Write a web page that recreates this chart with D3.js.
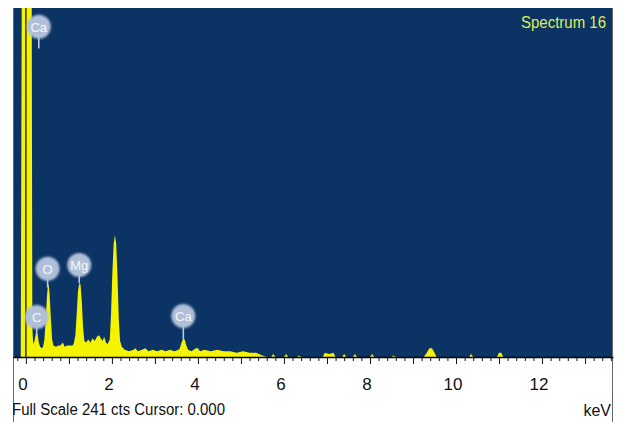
<!DOCTYPE html>
<html>
<head>
<meta charset="utf-8">
<script src="https://cdn.jsdelivr.net/npm/d3@7"></script>
<style>
  body { margin: 0; background: #fff; }
  text { font-family: 'Liberation Sans', Arial, sans-serif; }
</style>
</head>
<body>
<div class="spectrum-container"></div>
<script>
// spectrum vertices: energy (keV) and counts
var energy = [-0.3, -0.12, -0.09, 0.13, 0.15, 0.17, 0.2, 0.23, 0.25, 0.27, 0.3, 0.33, 0.37,
  0.4, 0.43, 0.46, 0.49, 0.51, 0.53, 0.55, 0.58, 0.61, 0.64,
  0.7, 0.76, 0.8, 0.86, 0.9, 0.96, 1.0, 1.08,
  1.11, 1.15, 1.18, 1.21, 1.24, 1.27, 1.3, 1.33, 1.36, 1.4,
  1.45, 1.5, 1.55, 1.6, 1.65, 1.7, 1.74, 1.78, 1.82, 1.86, 1.9,
  1.95, 1.98, 2.01, 2.04, 2.07, 2.1, 2.13, 2.16, 2.19, 2.23,
  2.3, 2.4, 2.5, 2.55, 2.6, 2.7, 2.78, 2.85, 2.95, 3.05, 3.15, 3.25, 3.35, 3.45, 3.55,
  3.58, 3.62, 3.66, 3.69, 3.73, 3.77, 3.85, 3.95, 4.0, 4.05, 4.15, 4.3, 4.45, 4.6, 4.75, 4.9, 5.05, 5.2, 5.35, 5.5, 5.6,
  5.7, 5.75, 5.8, 6.0, 6.05, 6.1, 6.3, 6.35, 6.4, 6.9, 6.95, 7.05, 7.15, 7.2, 7.35, 7.4, 7.45,
  7.6, 7.65, 7.7, 8.0, 8.05, 8.1, 8.5, 8.55, 8.6,
  9.25, 9.32, 9.38, 9.44, 9.5, 9.55, 10.3, 10.35, 10.4, 10.95, 11.0, 11.05, 11.1, 13.65];
var counts = [0, 0, 320, 320, 20, 9, 11, 16, 18, 16, 10, 7, 6,
  7, 12, 26, 42, 49, 50, 44, 27, 12, 8,
  7, 8, 8, 10, 7, 8, 8, 8,
  9, 15, 29, 45, 51, 50, 38, 20, 11, 10,
  12, 10, 13, 11, 14, 15, 13, 11, 14, 10, 9,
  12, 30, 58, 78, 84, 78, 55, 26, 11, 7,
  5, 4, 5, 6, 4, 5, 6, 4, 5, 4, 5, 4, 5, 4, 5,
  6, 10, 13, 12, 8, 5, 4, 6, 6, 4, 5, 4, 5, 4, 4, 3, 4, 3, 3, 1, 0,
  0, 2, 0, 0, 2, 0, 0, 1, 0, 0, 3, 2, 3, 0, 0, 2, 0,
  0, 2, 0, 0, 2, 0, 0, 1, 0,
  0, 3, 6, 6, 3, 0, 0, 2, 0, 0, 3, 3, 0, 0];

// element markers
var elements = ['Ca', 'C', 'O', 'Mg', 'Ca'];
var elementEnergy = [0.3, 0.25, 0.505, 1.24, 3.66];
var labelLevel = [228, 27.6, 61, 63.5, 28.3];
var stemEnd = [213, 15, 48, 51, 12];

var tickLabels = [0, 2, 4, 6, 8, 10, 12];
var fullScale = 241;
var cursor = 0.000;

var W = 623, H = 422;
var plot = {left: 13, right: 613, top: 8, bottom: 357};

var svg = d3.select('.spectrum-container').append('svg')
    .attr('width', W)
    .attr('height', H);

var x = d3.scaleLinear()
    .domain([-0.3, 13.65])
    .range([plot.left, plot.right]);

var y = d3.scaleLinear()
    .domain([0, fullScale])
    .range([plot.bottom, plot.top]);

var defs = svg.append('defs');
defs.append('clipPath')
    .attr('id', 'plot-clip')
  .append('rect')
    .attr('x', plot.left)
    .attr('y', plot.top)
    .attr('width', plot.right - plot.left)
    .attr('height', plot.bottom - plot.top);

defs.append('filter')
    .attr('id', 'soft')
    .attr('x', '-30%').attr('y', '-30%')
    .attr('width', '160%').attr('height', '160%')
  .append('feGaussianBlur').attr('stdDeviation', 1);

svg.append('rect')
    .attr('x', plot.left)
    .attr('y', plot.top)
    .attr('width', plot.right - plot.left)
    .attr('height', plot.bottom - plot.top)
    .attr('fill', '#0b3465');

var spectrum = energy.map(function(e, i) { return [e, counts[i]]; });

var area = d3.area()
    .x(function(d) { return x(d[0]); })
    .y0(y(0))
    .y1(function(d) { return y(d[1]); });

svg.append('path')
    .datum(spectrum)
    .attr('clip-path', 'url(#plot-clip)')
    .attr('fill', '#f4f400')
    .attr('d', area);

// cursor line
svg.append('line')
    .attr('x1', x(cursor)).attr('x2', x(cursor))
    .attr('y1', plot.top).attr('y2', plot.bottom)
    .attr('stroke', '#3a3000')
    .attr('stroke-width', 1.5);

// element markers
var markers = svg.append('g').attr('class', 'markers')
    .selectAll('g')
    .data(elements.map(function(el, i) {
        return {el: el, e: elementEnergy[i], level: labelLevel[i], stem: stemEnd[i]};
    }))
    .enter().append('g');

markers.append('line')
    .attr('x1', function(d) { return x(d.e); })
    .attr('x2', function(d) { return x(d.e); })
    .attr('y1', function(d) { return y(d.level) + 10; })
    .attr('y2', function(d) { return y(d.stem); })
    .attr('stroke', '#b9c8dd')
    .attr('stroke-width', 1.6);

markers.append('circle')
    .attr('cx', function(d) { return x(d.e); })
    .attr('cy', function(d) { return y(d.level); })
    .attr('r', 12)
    .attr('fill', '#b0c0d8')
    .attr('filter', 'url(#soft)');

markers.append('text')
    .attr('x', function(d) { return x(d.e); })
    .attr('y', function(d) { return y(d.level) + 5; })
    .attr('text-anchor', 'middle')
    .attr('fill', '#f6f8fb')
    .attr('font-size', 13)
    .text(function(d) { return d.el; });

// frame
svg.append('line')
    .attr('x1', plot.left + 0.5).attr('x2', plot.left + 0.5)
    .attr('y1', plot.top).attr('y2', H)
    .attr('stroke', '#666');
svg.append('line')
    .attr('x1', plot.right - 0.5).attr('x2', plot.right - 0.5)
    .attr('y1', plot.top).attr('y2', H)
    .attr('stroke', '#666');

// axis
var gAxis = svg.append('g')
    .attr('class', 'x-axis')
    .attr('transform', 'translate(0,' + plot.bottom + ')');

gAxis.call(d3.axisBottom(x)
        .tickValues(d3.range(-1, 69).map(function(i) { return i / 5; }))
        .tickSize(4)
        .tickSizeOuter(0)
        .tickFormat(''))
    .select('.domain')
        .attr('stroke', '#000')
        .attr('stroke-width', 1.5);

gAxis.selectAll('.tick line')
    .attr('stroke', '#111')
    .attr('y2', function(d) { return Math.abs(d - Math.round(d)) < 1e-6 ? 7 : 4; });

gAxis.selectAll('.major')
    .data(tickLabels)
    .enter().append('text')
    .attr('class', 'major')
    .attr('x', function(d) { return x(d) - 3; })
    .attr('y', 33)
    .attr('text-anchor', 'middle')
    .attr('fill', '#111')
    .attr('font-size', 17)
    .text(function(d) { return d; });

svg.append('text')
    .attr('x', 12)
    .attr('y', 415)
    .attr('fill', '#111')
    .attr('font-size', 16)
    .attr('textLength', 213)
    .attr('lengthAdjust', 'spacingAndGlyphs')
    .text('Full Scale ' + fullScale + ' cts Cursor: ' + cursor.toFixed(3));

svg.append('text')
    .attr('x', 611)
    .attr('y', 416)
    .attr('text-anchor', 'end')
    .attr('fill', '#111')
    .attr('font-size', 16)
    .text('keV');

svg.append('text')
    .attr('x', 521)
    .attr('y', 28)
    .attr('fill', '#dcec5a')
    .attr('font-size', 16)
    .attr('textLength', 85)
    .attr('lengthAdjust', 'spacingAndGlyphs')
    .text('Spectrum 16');
</script>
</body>
</html>
